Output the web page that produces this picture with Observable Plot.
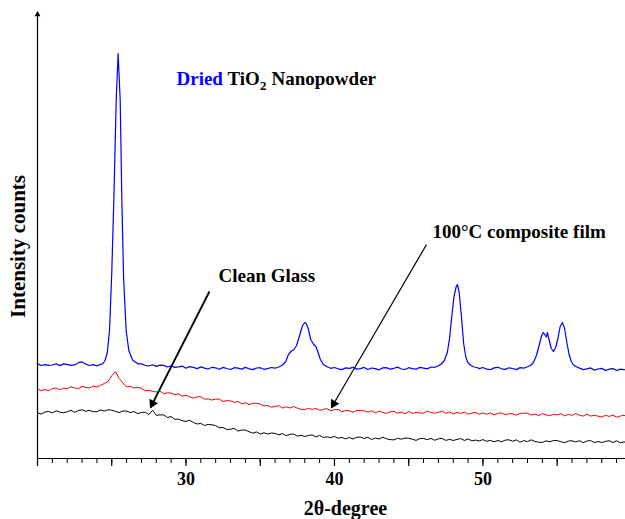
<!DOCTYPE html>
<html><head><meta charset="utf-8">
<script src="https://cdn.jsdelivr.net/npm/d3@7"></script>
<script src="https://cdn.jsdelivr.net/npm/@observablehq/plot@0.6"></script>
<style>body{margin:0;background:#fff}</style>
</head><body><div id="chart"></div>
<script>
// 2θ grid for the red and black traces: one row per degree (θ, θ+.25, θ+.5, θ+.75)
const gridStart = 20, gridStep = 0.25;

// 100°C composite film (red)
const redCounts = [
  693, 679, 690, 678,  // 20
  698, 705, 688, 702,  // 21
  697, 718, 705, 700,  // 22
  720, 712, 704, 725,  // 23
  715, 732, 750, 770,  // 24
  828, 870, 800, 755,  // 25
  716, 723, 706, 713,  // 26
  701, 678, 682, 671,  // 27
  665, 673, 646, 657,  // 28
  655, 638, 647, 623,  // 29
  634, 618, 603, 616,  // 30
  617, 593, 597, 585,  // 31
  593, 594, 570, 578,  // 32
  577, 561, 571, 548,  // 33
  556, 538, 552, 551,  // 34
  545, 525, 531, 514,  // 35
  519, 529, 504, 517,  // 36
  505, 520, 503, 492,  // 37
  488, 502, 491, 501,  // 38
  482, 492, 498, 478,  // 39
  488, 491, 469, 479,  // 40
  478, 463, 479, 481,  // 41
  477, 464, 477, 457,  // 42
  473, 461, 450, 467,  // 43
  471, 454, 463, 448,  // 44
  471, 452, 461, 454,  // 45
  455, 474, 460, 453,  // 46
  461, 474, 451, 466,  // 47
  446, 461, 451, 463,  // 48
  444, 455, 462, 443,  // 49
  455, 442, 456, 436,  // 50
  452, 457, 437, 448,  // 51
  448, 433, 451, 453,  // 52
  452, 435, 444, 429,  // 53
  449, 437, 427, 444,  // 54
  436, 448, 426, 441,  // 55
  432, 449, 433, 424,  // 56
  444, 424, 432, 424,  // 57
  416, 432, 421, 433,  // 58
  414, 425, 432, 413   // 59
];

// Clean glass (black)
const blackCounts = [
  455, 444, 465, 470,  // 20
  457, 477, 464, 458,  // 21
  467, 482, 462, 480,  // 22
  487, 472, 482, 468,  // 23
  468, 485, 475, 487,  // 24
  484, 471, 459, 475,  // 25
  474, 459, 470, 448,  // 26
  461, 463, 439, 482,  // 27
  432, 436, 436, 410,  // 28
  419, 392, 393, 378,  // 29
  371, 382, 360, 345,  // 30
  351, 330, 341, 337,  // 31
  329, 307, 310, 290,  // 32
  293, 301, 274, 285,  // 33
  284, 268, 253, 266,  // 34
  244, 257, 245, 255,  // 35
  251, 237, 249, 228,  // 36
  242, 245, 223, 233,  // 37
  220, 230, 236, 216,  // 38
  231, 210, 217, 208,  // 39
  221, 203, 211, 196,  // 40
  210, 195, 212, 214,  // 41
  200, 212, 190, 205,  // 42
  195, 213, 197, 189,  // 43
  186, 202, 193, 205,  // 44
  203, 192, 181, 199,  // 45
  200, 188, 201, 182,  // 46
  197, 201, 181, 192,  // 47
  180, 191, 199, 180,  // 48
  196, 176, 184, 176,  // 49
  189, 172, 181, 166,  // 50
  181, 167, 184, 187,  // 51
  173, 186, 163, 179,  // 52
  169, 187, 171, 163,  // 53
  160, 177, 167, 180,  // 54
  179, 168, 157, 175,  // 55
  177, 165, 178, 159,  // 56
  175, 179, 159, 170,  // 57
  159, 171, 178, 160,  // 58
  177, 157, 166, 158   // 59
];

// Dried TiO2 nanopowder (blue): [2θ, counts]
const blueSeries = [
  [20,949],[20.25,930],[20.5,939],[20.75,932],[21,935],[21.25,948],[21.5,929],[21.75,946],
  [22,941],[22.25,931],[22.5,936],[22.75,958],[23,966],[23.25,944],[23.5,930],[23.75,938],
  [24,927],[24.25,941],[24.4,948],[24.55,980],[24.7,1060],[24.85,1280],[25,1850],[25.14,2580],
  [25.3,3580],[25.43,4050],[25.57,3580],[25.68,2580],[25.8,1800],[25.97,1280],[26.15,1080],
  [26.4,985],[26.6,962],[26.8,946],
  [27,946],[27.25,932],[27.5,925],[27.75,937],[28,921],[28.25,934],[28.5,931],[28.75,915],
  [29,928],[29.25,911],[29.5,917],[29.75,924],[30,903],[30.25,919],[30.5,911],[30.75,899],
  [31,916],[31.25,904],[31.5,895],[31.75,912],[32,907],[32.25,893],[32.5,911],[32.75,900],
  [33,890],[33.25,908],[33.5,903],[33.75,894],[34,911],[34.25,897],[34.5,889],[34.75,905],
  [35,908],[35.25,892],[35.5,899],[35.75,910],[36,903],[36.25,915],
  [36.5,935],[36.7,965],[36.9,1040],[37.1,1075],[37.25,1085],[37.45,1130],[37.65,1230],
  [37.85,1330],[38.0,1360],[38.1,1350],[38.25,1290],[38.4,1190],[38.6,1140],[38.75,1120],
  [38.9,1060],[39.05,990],[39.25,940],[39.5,918],[39.75,902],
  [40,910],[40.25,897],[40.5,889],[40.75,906],[41,902],[41.25,912],[41.5,894],[41.75,899],
  [42,911],[42.25,890],[42.5,905],[42.75,898],[43,887],[43.25,906],[43.5,909],[43.75,893],
  [44,902],[44.25,914],[44.5,895],[44.75,890],[45,908],[45.25,899],[45.5,893],[45.75,911],
  [46,904],[46.25,896],[46.5,915],[46.75,912],[47,928],
  [47.2,945],[47.4,980],[47.6,1060],[47.75,1200],[47.9,1420],[48.05,1620],[48.2,1720],
  [48.28,1740],[48.4,1660],[48.55,1420],[48.7,1150],[48.85,1010],[49.0,955],[49.2,930],
  [49.4,915],[49.6,910],
  [49.75,899],[50,910],[50.25,893],[50.5,888],[50.75,906],[51,912],[51.25,897],[51.5,891],
  [51.75,907],[52,900],[52.25,889],[52.5,909],[52.75,903],[53,918],
  [53.2,930],[53.4,960],[53.6,1030],[53.8,1140],[53.95,1230],[54.07,1260],[54.18,1235],
  [54.26,1215],[54.34,1260],[54.45,1190],[54.6,1100],[54.75,1070],[54.9,1110],[55.05,1200],
  [55.2,1320],[55.35,1360],[55.5,1300],[55.65,1160],[55.8,1040],[55.95,970],[56.1,935],
  [56.3,918],
  [56.5,904],[56.75,889],[57,897],[57.25,906],[57.5,884],[57.75,895],[58,901],[58.25,881],
  [58.5,893],[58.75,899],[59,880],[59.25,894],[59.5,889],[59.75,884]
];

// Axis ticks
const xMinorTicks = [20,21,22,23,24,25,26,27,28,29,30,31,32,33,34,35,36,37,38,39,
                     40,41,42,43,44,45,46,47,48,49,50,51,52,53,54,55,56,57,58,59];
const xMajorTicks = [20,25,30,35,40,45,50,55];
const xTickLabels = [30,40,50];

// Annotations (in data units)
const titleParts = [
  {text: "Dried", theta: 29.36, counts: 3800, color: "#0000ff", size: 19},
  {text: "TiO", theta: 32.79, counts: 3800, color: "#000", size: 19},
  {text: "2", theta: 34.98, counts: 3800, color: "#000", size: 13},
  {text: "Nanopowder", theta: 35.76, counts: 3800, color: "#000", size: 19}
];
const seriesLabels = [
  {text: "Clean Glass", theta: 32.19, counts: 1830},
  {text: "100°C composite film", theta: 46.6, counts: 2265}
];
const arrows = [
  {x1: 31.58, y1: 1670, x2: 27.61, y2: 510, w: 1.8},
  {x1: 46.2, y1: 2140, x2: 39.8, y2: 510, w: 1.2}
];

const W = 625, H = 519, mL = 37, mR = 0, mT = 14, mB = 61;
const xDomain = [20, 59.6], yDomain = [0, 4440];

const toRows = (arr) => arr.map((c, i) => ({theta: gridStart + i * gridStep, counts: c}));
const red = toRows(redCounts);
const black = toRows(blackCounts);
const blue = blueSeries.map(([t, c]) => ({theta: t, counts: c}));

// arrowhead orientation from pixel-space direction
const pxPerX = (W - mL - mR) / (xDomain[1] - xDomain[0]);
const pxPerY = (H - mT - mB) / (yDomain[1] - yDomain[0]);
const headMarks = arrows.map(a => {
  const dx = (a.x2 - a.x1) * pxPerX, dy = -(a.y2 - a.y1) * pxPerY;
  const ang = Math.atan2(dx, -dy) * 180 / Math.PI;
  const len = Math.hypot(dx, dy), back = 4.5;
  return Plot.dot([a], {x: "x2", y: "y2", symbol: "triangle", r: 3.6, fill: "#000", stroke: "none",
    rotate: ang, dx: -dx / len * back, dy: -dy / len * back});
});

const font = "Liberation Serif, Times New Roman, serif";

const chart = Plot.plot({
  width: W, height: H,
  marginLeft: mL, marginRight: mR, marginTop: mT, marginBottom: mB,
  style: {background: "#fff", color: "#000", overflow: "visible"},
  x: {domain: xDomain, axis: null},
  y: {domain: yDomain, axis: null},
  marks: [
    Plot.line(black, {x: "theta", y: "counts", stroke: "#000", strokeWidth: 1, clip: true}),
    Plot.line(red, {x: "theta", y: "counts", stroke: "#ff0000", strokeWidth: 1, clip: true}),
    Plot.line(blue, {x: "theta", y: "counts", stroke: "#0000ff", strokeWidth: 1.2, clip: true}),
    Plot.ruleY([0], {stroke: "#000", strokeWidth: 1.2}),
    Plot.ruleX([20], {stroke: "#000", strokeWidth: 1.2}),
    Plot.dot([{theta: 20, counts: 4440}], {x: "theta", y: "counts", symbol: "triangle", r: 2.2, fill: "#000", stroke: "none"}),
    Plot.axisX(xMinorTicks, {anchor: "bottom", tickSize: 5, tickFormat: () => "", label: null, strokeWidth: 1}),
    Plot.axisX(xMajorTicks, {anchor: "bottom", tickSize: 8, tickPadding: 6, label: null, strokeWidth: 1.2,
      tickFormat: d => xTickLabels.includes(d) ? String(d) : "", fontSize: 18, fontWeight: "bold", fontFamily: font}),
    Plot.text(["2θ-degree"], {x: 40.74, y: -500, text: d => d, fontSize: 20, fontWeight: "bold", fontFamily: font, fill: "#000"}),
    Plot.text(["Intensity counts"], {x: 20, y: 2120, dx: -19, rotate: -90, text: d => d, fontSize: 21, fontWeight: "bold", fontFamily: font, fill: "#000"}),
    Plot.text(titleParts, {x: "theta", y: "counts", text: "text", fill: "color", fontSize: "size", textAnchor: "start", fontWeight: "bold", fontFamily: font}),
    Plot.text(seriesLabels, {x: "theta", y: "counts", text: "text", fill: "#000", fontSize: 19, textAnchor: "start", fontWeight: "bold", fontFamily: font}),
    Plot.link(arrows, {x1: "x1", y1: "y1", x2: "x2", y2: "y2", stroke: "#000", strokeWidth: "w"}),
    ...headMarks
  ]
});
chart.setAttribute("font-family", font);
document.getElementById("chart").appendChild(chart);
// subscript offset for the "2"
chart.querySelectorAll("text").forEach(t => { if (t.textContent === "2" && t.getAttribute("font-size") === "13") t.setAttribute("dy", "0.6em"); });
</script>
</body></html>
